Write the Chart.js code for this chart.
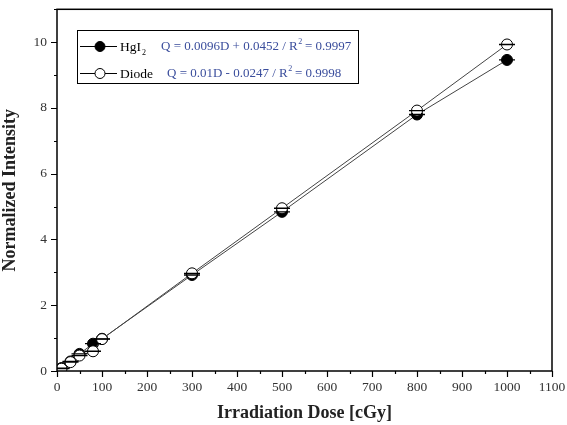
<!DOCTYPE html>
<html>
<head>
<meta charset="utf-8">
<script src="https://cdn.jsdelivr.net/npm/chart.js@4.4.0/dist/chart.umd.min.js"></script>
<style>
  html, body { margin: 0; padding: 0; background: #fff; }
  #wrap { width: 567px; height: 425px; }
</style>
</head>
<body>
<div id="wrap"><canvas id="doseChart" width="567" height="425"></canvas></div>
<script>
const doseHgI2 = [10, 30, 50, 80, 100, 300, 500, 800, 1000];
const intensityHgI2 = [0.09, 0.29, 0.52, 0.83, 0.98, 2.92, 4.84, 7.80, 9.46];
const doseDiode = [10, 30, 50, 80, 100, 300, 500, 800, 1000];
const intensityDiode = [0.07, 0.27, 0.47, 0.60, 0.97, 2.97, 4.95, 7.92, 9.93];
const xMajorTicks = [0, 100, 200, 300, 400, 500, 600, 700, 800, 900, 1000, 1100];
const yMajorTicks = [0, 2, 4, 6, 8, 10];

const SERIF = '"Liberation Serif", "DejaVu Serif", serif';

function toPoints(xs, ys) {
    return xs.map((x, i) => ({ x: x, y: ys[i] }));
}

// outward tick marks, major + minor, and the closed frame
const framePlugin = {
    id: 'frame',
    afterDraw(chart) {
        const { ctx, chartArea: a, scales } = chart;
        const xs = scales.x, ys = scales.y;
        ctx.save();
        ctx.strokeStyle = '#000';
        ctx.lineWidth = 1.5;
        ctx.strokeRect(a.left, a.top, a.right - a.left, a.bottom - a.top);
        ctx.lineWidth = 1.2;
        ctx.beginPath();
        for (let v = 0; v <= 1100; v += 50) {
            const px = Math.round(xs.getPixelForValue(v)) + 0.5;
            const len = v % 100 === 0 ? 6 : 3;
            ctx.moveTo(px, a.bottom);
            ctx.lineTo(px, a.bottom + len);
        }
        for (let v = 0; v <= 11; v += 1) {
            const py = Math.round(ys.getPixelForValue(v)) + 0.5;
            const len = v % 2 === 0 ? 6 : 3;
            ctx.moveTo(a.left, py);
            ctx.lineTo(a.left - len, py);
        }
        ctx.stroke();
        ctx.restore();
    }
};

// boxed legend with fit equations
const legendPlugin = {
    id: 'fitLegend',
    afterDraw(chart) {
        const ctx = chart.ctx;
        const bx = 77, by = 30, bw = 281, bh = 53;
        ctx.save();
        ctx.fillStyle = '#fff';
        ctx.fillRect(bx, by, bw, bh);
        ctx.strokeStyle = '#000';
        ctx.lineWidth = 1;
        ctx.strokeRect(bx + 0.5, by + 0.5, bw, bh);

        const rows = [
            { y: 46, filled: true, name: 'HgI', sub: '2', eqX: 161, eq: 'Q = 0.0096D + 0.0452 / R', r2: ' = 0.9997' },
            { y: 73, filled: false, name: 'Diode', sub: '', eqX: 167, eq: 'Q = 0.01D - 0.0247 / R', r2: ' = 0.9998' }
        ];
        rows.forEach(r => {
            ctx.strokeStyle = '#000';
            ctx.lineWidth = 1;
            ctx.beginPath();
            ctx.moveTo(80, r.y + 0.5);
            ctx.lineTo(117, r.y + 0.5);
            ctx.stroke();
            ctx.beginPath();
            ctx.arc(100, r.y + 0.5, 5, 0, Math.PI * 2);
            ctx.fillStyle = r.filled ? '#000' : '#fff';
            ctx.fill();
            ctx.stroke();

            ctx.textBaseline = 'middle';
            ctx.textAlign = 'left';
            ctx.fillStyle = '#000';
            ctx.font = '13.5px ' + SERIF;
            ctx.fillText(r.name, 120, r.y + 1);
            if (r.sub) {
                const w = ctx.measureText(r.name).width;
                ctx.font = '8px ' + SERIF;
                ctx.fillText(r.sub, 120 + w + 1, r.y + 7);
            }
            ctx.fillStyle = '#3a4d9c';
            ctx.font = '13px ' + SERIF;
            ctx.fillText(r.eq, r.eqX, r.y + 1);
            const w2 = ctx.measureText(r.eq).width;
            ctx.font = '8px ' + SERIF;
            ctx.fillText('2', r.eqX + w2 + 0.5, r.y - 4);
            ctx.font = '13px ' + SERIF;
            ctx.fillText(r.r2, r.eqX + w2 + 4, r.y + 1);
        });
        ctx.restore();
    }
};

const ctx = document.getElementById('doseChart').getContext('2d');
new Chart(ctx, {
    type: 'scatter',
    data: {
        datasets: [
            {
                label: 'Diode',
                data: toPoints(doseDiode, intensityDiode),
                showLine: true,
                borderColor: '#444',
                borderWidth: 1,
                pointStyle: 'circle',
                pointRadius: 5.5,
                pointBackgroundColor: '#fff',
                pointBorderColor: '#000',
                pointBorderWidth: 1,
                order: 1
            },
            {
                label: 'HgI2',
                data: toPoints(doseHgI2, intensityHgI2),
                showLine: true,
                borderColor: '#444',
                borderWidth: 1,
                pointStyle: 'circle',
                pointRadius: 5.5,
                pointBackgroundColor: '#000',
                pointBorderColor: '#000',
                pointBorderWidth: 1,
                order: 2
            },
            {
                label: 'Diode bar',
                data: toPoints(doseDiode, intensityDiode),
                showLine: false,
                pointStyle: 'line',
                pointRadius: 8,
                pointBorderColor: '#000',
                pointBorderWidth: 1.3,
                order: 0
            },
            {
                label: 'HgI2 bar',
                data: toPoints(doseHgI2, intensityHgI2),
                showLine: false,
                pointStyle: 'line',
                pointRadius: 8,
                pointBorderColor: '#000',
                pointBorderWidth: 1.3,
                order: 0
            }
        ]
    },
    options: {
        responsive: false,
        animation: false,
        layout: { padding: { top: 8, right: 15, left: 0, bottom: 0 } },
        plugins: {
            legend: { display: false },
            tooltip: { enabled: false }
        },
        scales: {
            x: {
                type: 'linear',
                min: 0,
                max: 1100,
                afterBuildTicks: s => { s.ticks = xMajorTicks.map(v => ({ value: v })); },
                afterFit: s => { s.height = 54; s.paddingLeft = 0; s.paddingRight = 0; },
                grid: { display: false, drawTicks: false },
                border: { display: false },
                ticks: {
                    padding: 8,
                    color: '#333',
                    font: { family: SERIF, size: 13.5 },
                    maxRotation: 0,
                    callback: v => String(v)
                },
                title: {
                    display: true,
                    text: 'Irradiation Dose [cGy]',
                    color: '#222',
                    font: { family: SERIF, size: 18, weight: 'bold' },
                    padding: { top: 4, bottom: 1 }
                }
            },
            y: {
                type: 'linear',
                min: 0,
                max: 11,
                afterBuildTicks: s => { s.ticks = yMajorTicks.map(v => ({ value: v })); },
                afterFit: s => { s.width = 57; s.paddingTop = 0; s.paddingBottom = 0; },
                grid: { display: false, drawTicks: false },
                border: { display: false },
                ticks: {
                    padding: 10,
                    color: '#333',
                    font: { family: SERIF, size: 13.5 },
                    callback: v => String(v)
                },
                title: {
                    display: true,
                    text: 'Normalized Intensity',
                    color: '#222',
                    font: { family: SERIF, size: 18, weight: 'bold' },
                    padding: { top: 0, bottom: 4 }
                }
            }
        }
    },
    plugins: [framePlugin, legendPlugin]
});
</script>
</body>
</html>
